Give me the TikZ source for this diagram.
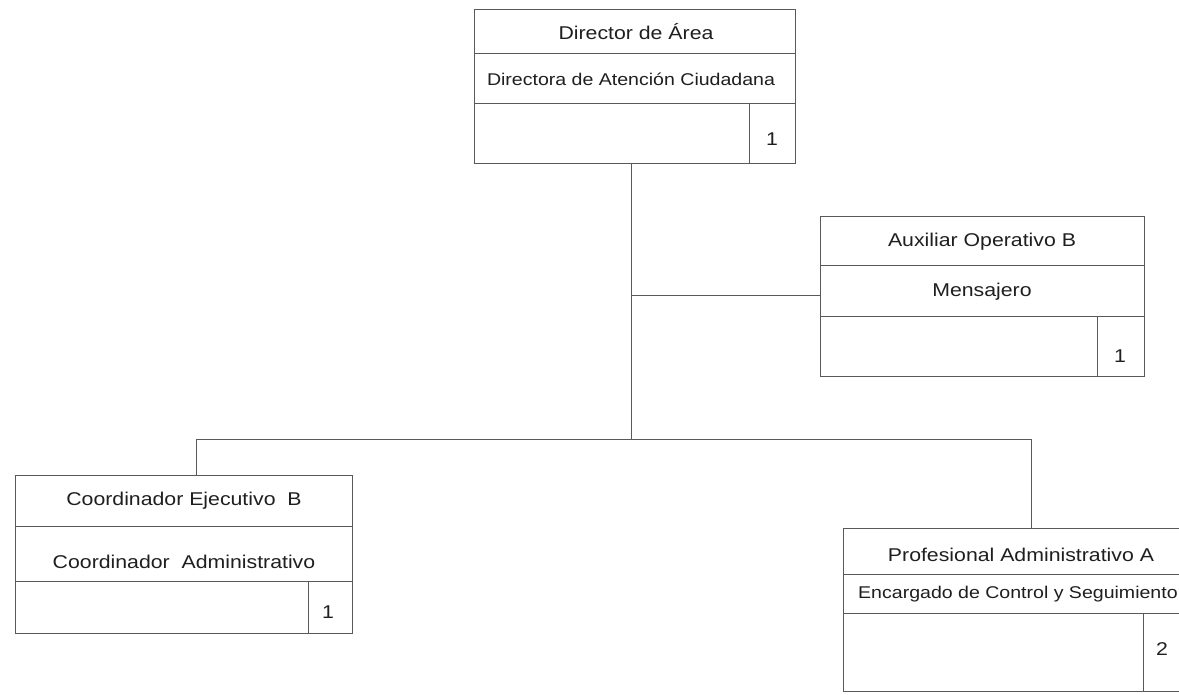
\documentclass[tikz,border=0pt]{standalone}
\usepackage{fontspec}
\setmainfont{Liberation Sans}[FakeStretch=1.15]
\definecolor{linec}{gray}{0.35}
\definecolor{txtc}{gray}{0.12}
\begin{document}
\begin{tikzpicture}[x=1pt,y=-1pt,
  box/.style={draw=linec, line width=0.9pt, rectangle, inner sep=0pt, outer sep=0pt, anchor=north west},
  sep/.style={draw=linec, line width=0.8pt},
  conn/.style={draw=linec, line width=0.9pt},
  lbl/.style={font=\fontsize{18.5}{20}\selectfont, text=txtc, inner sep=0pt},
  lbls/.style={font=\fontsize{17}{19}\selectfont, text=txtc, inner sep=0pt}]
\useasboundingbox (0,0) rectangle (1179,695);
\clip (0,0) rectangle (1179,695);
\fill[white] (0,0) rectangle (1179,695);

% Director box
\node[box, minimum width=321pt, minimum height=154pt] (dir) at (474,9) {};
\draw[sep] (474,53) -- (795,53);
\draw[sep] (474,103) -- (795,103);
\draw[sep] (749,103) -- (749,163);
\node[lbl] (dirt1) at (636,32) {Director de Área};
\node[lbls] (dirt2) at (631,79) {Directora de Atención Ciudadana};
\node[lbl] (dirn) at (772,139) {1};

% Auxiliar box
\node[box, minimum width=324pt, minimum height=160pt] (aux) at (820,216) {};
\draw[sep] (820,265) -- (1144,265);
\draw[sep] (820,316) -- (1144,316);
\draw[sep] (1097,316) -- (1097,376);
\node[lbl] (auxt1) at (982,242) {Auxiliar Operativo B};
\node[lbl] (auxt2) at (982,292) {Mensajero};
\node[lbl] (auxn) at (1120,356) {1};

% Coordinador box
\node[box, minimum width=337pt, minimum height=158pt] (coo) at (15,475) {};
\draw[sep] (15,526) -- (352,526);
\draw[sep] (15,581) -- (352,581);
\draw[sep] (308,581) -- (308,633);
\node[lbl] (coot1) at (184,501) {Coordinador Ejecutivo\ \ B};
\node[lbl] (coot2) at (184,562) {Coordinador\ \ Administrativo};
\node[lbl] (coon) at (328,612) {1};

% Profesional box
\node[box, minimum width=356pt, minimum height=163pt] (prof) at (843,528) {};
\draw[sep] (843,574) -- (1199,574);
\draw[sep] (843,613) -- (1199,613);
\draw[sep] (1143,613) -- (1143,691);
\node[lbl] (proft1) at (1021,555) {Profesional Administrativo A};
\node[lbls, anchor=west] (proft2) at (858,594) {Encargado de Control y Seguimiento};
\node[lbl] (profn) at (1162,649) {2};

% connectors
\coordinate (j1) at (631,295);
\coordinate (j2) at (631,439);
\coordinate (jl) at (196,439);
\coordinate (jr) at (1031,439);
\draw[conn] (dir.south -| j1) -- (j2);
\draw[conn] (j1) -- (aux.west |- j1);
\draw[conn] (jl) -- (jr);
\draw[conn] (jl) -- (jl |- coo.north);
\draw[conn] (jr) -- (jr |- prof.north);
\end{tikzpicture}
\end{document}
